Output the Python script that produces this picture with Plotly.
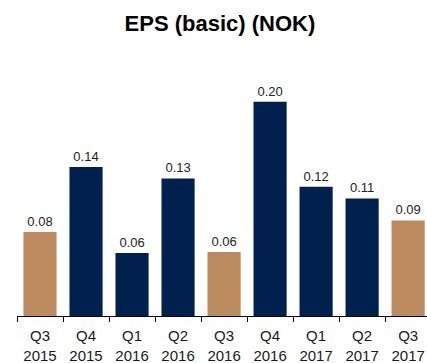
import plotly.graph_objects as go

quarters = ["Q3", "Q4", "Q1", "Q2", "Q3", "Q4", "Q1", "Q2", "Q3"]
years = ["2015", "2015", "2016", "2016", "2016", "2016", "2017", "2017", "2017"]
eps = [0.080, 0.142, 0.060, 0.131, 0.061, 0.204, 0.123, 0.112, 0.091]
labels = ["0.08", "0.14", "0.06", "0.13", "0.06", "0.20", "0.12", "0.11", "0.09"]
highlight = [True, False, False, False, True, False, False, False, True]

TAN = "#BC8A5F"
NAVY = "#00204E"

cats = [f"{q}<br>{y}" for q, y in zip(quarters, years)]
colors = [TAN if h else NAVY for h in highlight]

fig = go.Figure(
    go.Bar(
        x=cats,
        y=eps,
        marker=dict(color=colors, line=dict(width=0)),
        width=0.72,
        text=labels,
        textposition="outside",
        textfont=dict(family="Liberation Sans, Arial", size=13, color="#222222"),
        cliponaxis=False,
    )
)

fig.update_layout(
    width=427,
    height=363,
    margin=dict(l=17, r=0, t=60, b=47),
    paper_bgcolor="white",
    plot_bgcolor="white",
    showlegend=False,
    title=dict(
        text="<b>EPS (basic) (NOK)</b>",
        x=0.515,
        xanchor="center",
        y=0.935,
        yanchor="middle",
        font=dict(family="Liberation Sans, Arial", size=22, color="#000000"),
    ),
    xaxis=dict(
        type="category",
        range=[-0.5, 8.41],
        tickson="boundaries",
        ticks="outside",
        ticklen=5,
        tickcolor="#000000",
        showline=True,
        linecolor="#000000",
        linewidth=1,
        showgrid=False,
        ticklabelstandoff=6,
        tickfont=dict(family="Liberation Sans, Arial", size=15, color="#1a1a1a"),
    ),
    yaxis=dict(
        range=[0, 0.2438],
        visible=False,
        showgrid=False,
        zeroline=False,
    ),
)

fig.write_html("out.html")
